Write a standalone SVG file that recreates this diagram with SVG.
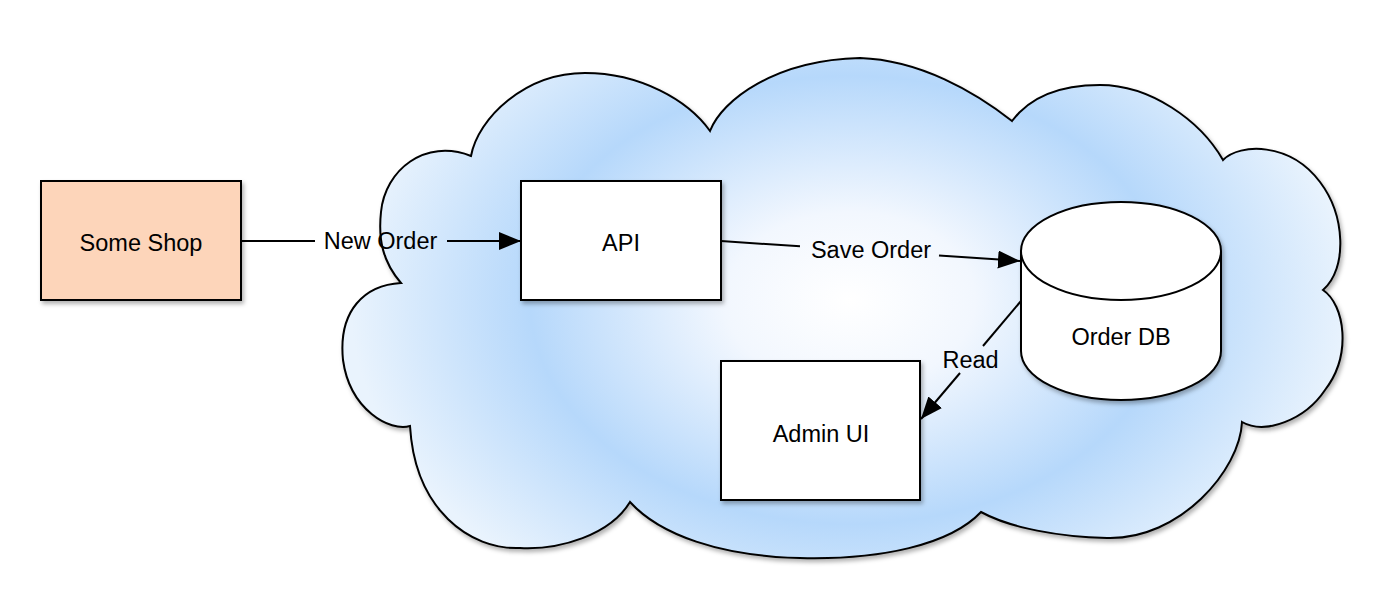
<svg xmlns="http://www.w3.org/2000/svg" width="1400" height="600" viewBox="0 0 1400 600">
  <style>
    .node { stroke: #000; stroke-width: 2; }
    .plain { fill: #ffffff; }
    .shop { fill: #fdd5ba; }
    .lbl { font-family: "Liberation Sans", Arial, Helvetica, sans-serif; font-size: 23.5px; fill: #000; text-anchor: middle; }
    .edge { stroke: #000; stroke-width: 2; fill: none; }
  </style>
  <defs>
    <radialGradient id="cloudFill" gradientUnits="userSpaceOnUse" cx="850" cy="300" r="500" gradientTransform="translate(0,90) scale(1,0.7)">
      <stop offset="0" stop-color="#ffffff"/>
      <stop offset="0.25" stop-color="#f2f7fe"/>
      <stop offset="0.64" stop-color="#b6d8fb"/>
      <stop offset="1" stop-color="#e9f3fd"/>
    </radialGradient>
    <filter id="shadow" x="-10%" y="-10%" width="130%" height="130%">
      <feDropShadow dx="2" dy="3" stdDeviation="2" flood-color="#000" flood-opacity="0.3"/>
    </filter>
    <marker id="arrow" markerUnits="userSpaceOnUse" markerWidth="24" markerHeight="20" refX="22" refY="9" orient="auto">
      <path d="M0,0 L22,9 L0,18 Z" fill="#000"/>
    </marker>
  </defs>

  <g id="cloud">
    <path class="node" fill="url(#cloudFill)" filter="url(#shadow)" d="M401,283 C383,262 378,240 381,212 C385,170 425,138 471,156 C478,118 525,73 585,73 C640,73 688,100 710,131 C722,100 775,60 860,58 C920,60 975,92 1012,121 C1030,97 1060,85 1100,85 C1150,85 1200,120 1223,160 C1240,143 1290,142 1320,182 C1345,215 1348,268 1323,290 C1345,305 1352,355 1325,390 C1305,420 1265,435 1242,422 C1240,470 1180,540 1107,538 C1060,537 1010,528 981,512 C950,545 880,560 800,558 C720,556 660,535 630,502 C610,535 560,550 520,548 C470,550 415,510 410,426 C390,432 350,410 343,360 C338,310 365,285 401,283 Z"/>
  </g>

  <g id="connectors">
    <line class="edge" x1="241" y1="241" x2="315" y2="241"/>
    <line class="edge" x1="447" y1="241" x2="521" y2="241" marker-end="url(#arrow)"/>
    <text class="lbl" x="380.5" y="248.5">New Order</text>

    <line class="edge" x1="721" y1="241" x2="800" y2="246.3"/>
    <line class="edge" x1="939" y1="255.6" x2="1020" y2="261" marker-end="url(#arrow)"/>
    <text class="lbl" x="871" y="258">Save Order</text>

    <line class="edge" x1="1021" y1="301" x2="983" y2="346"/>
    <line class="edge" x1="960" y1="373" x2="921" y2="419" marker-end="url(#arrow)"/>
    <text class="lbl" x="970.5" y="368">Read</text>
  </g>

  <g id="some-shop">
    <rect class="node shop" x="41" y="181" width="200" height="119" filter="url(#shadow)"/>
    <text class="lbl" x="141" y="250.5">Some Shop</text>
  </g>

  <g id="api">
    <rect class="node plain" x="521" y="181" width="200" height="119" filter="url(#shadow)"/>
    <text class="lbl" x="621" y="250.5">API</text>
  </g>

  <g id="admin-ui">
    <rect class="node plain" x="721" y="361" width="199" height="139" filter="url(#shadow)"/>
    <text class="lbl" x="821" y="441.5">Admin UI</text>
  </g>

  <g id="order-db">
    <path class="node plain" filter="url(#shadow)" d="M1021,251 L1021,351 A100,49 0 0 0 1221,351 L1221,251 A100,49 0 0 0 1021,251 Z"/>
    <path class="node" fill="none" d="M1021,251 A100,49 0 0 0 1221,251"/>
    <text class="lbl" x="1121" y="345">Order DB</text>
  </g>
</svg>
